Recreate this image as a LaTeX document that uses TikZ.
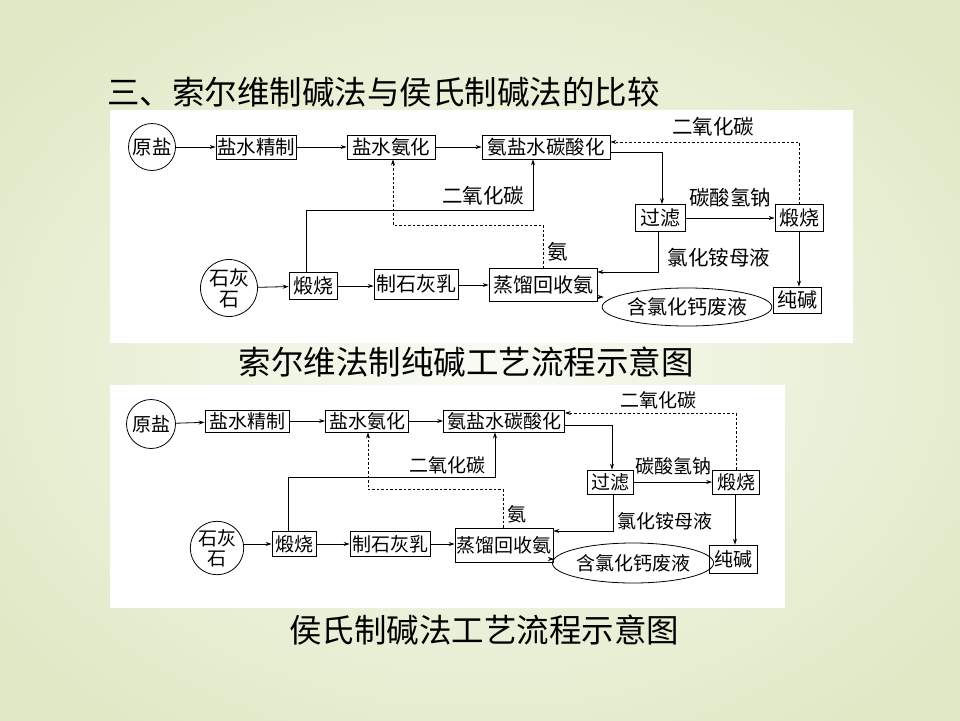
\documentclass[tikz,border=0pt]{standalone}
\usepackage{fontspec}
\usetikzlibrary{arrows.meta,shapes.geometric}
\newfontfamily\cjk{Noto Sans CJK SC}
\definecolor{bgout}{HTML}{E0E9C6}
\definecolor{bgin}{HTML}{F9FBF3}
\tikzset{
  every node/.style={font=\cjk\fontsize{19.5}{21}\selectfont},
  ln/.style={line width=0.8pt, draw=black},
  arr/.style={ln, -{Stealth[length=6pt,width=4pt]}},
  darr/.style={arr, dash pattern=on 2.5pt off 2pt},
  box/.style={ln, fill=white, rectangle, inner sep=0pt},
  circ/.style={ln, circle, inner sep=0pt, align=center},
  ell/.style={ln, ellipse, inner sep=0pt},
  lbl/.style={inner sep=0pt, font=\cjk\fontsize{20.5}{22}\selectfont},
  big/.style={font=\cjk\fontsize{20}{22}\selectfont},
  sml/.style={font=\cjk\fontsize{19}{21}\selectfont},
  captxt/.style={inner sep=0pt, font=\cjk\fontsize{32.5}{34}\selectfont},
}
\begin{document}
\begin{tikzpicture}[x=1pt,y=-1pt]
\useasboundingbox (0,0) rectangle (960,720);
\shade[inner color=bgin, outer color=bgout] (-120,-90) rectangle (1080,810);
% title
\node[anchor=west, inner sep=0pt, font=\cjk\fontsize{32.5}{34}\selectfont] (title) at (107,92) {三、索尔维制碱法与侯氏制碱法的比较};
% ================= panel 1 =================
\fill[white] (110,110) rectangle (853,343);
\node[circ, minimum size=47pt] (a1) at (152,147) {原盐};
\node[box, minimum width=80pt, minimum height=24pt] (b1) at (256,147) {盐水精制};
\node[box, minimum width=88pt, minimum height=24pt] (c1) at (391,147) {盐水氨化};
\node[box, minimum width=128pt, minimum height=24pt] (d1) at (546,147) {氨盐水碳酸化};
\node[box, minimum width=50pt, minimum height=27pt, big] (f1) at (660,218) {过滤};
\node[box, minimum width=48pt, minimum height=27pt, big] (g1) at (799,218) {煅烧};
\node[box, minimum width=48pt, minimum height=26pt, big] (h1) at (797,300) {纯碱};
\node[circ, minimum size=57pt, font=\cjk\fontsize{20}{21}\selectfont] (l1) at (229,288) {石灰\\石};
\node[box, minimum width=48pt, minimum height=27pt, big] (m1) at (313,286) {煅烧};
\node[box, minimum width=84pt, minimum height=30pt, big] (n1) at (416,284) {制石灰乳};
\node[box, minimum width=108pt, minimum height=33pt, big] (p1) at (543,285) {蒸馏回收氨};
\node[ell, minimum width=134pt, minimum height=38pt, big] (q1) at (687,307) {含氯化钙废液};
\node[lbl] (t1) at (713,127) {二氧化碳};
\node[lbl] (u1) at (730,198) {碳酸氢钠};
\node[lbl] (v1) at (719,258) {氯化铵母液};
\node[lbl] (w1) at (558,252) {氨};
\node[lbl] (x1) at (483,196) {二氧化碳};
\coordinate (k1) at (533,210);
\draw[arr] (a1) -- (b1);
\draw[arr] (b1) -- (c1);
\draw[arr] (c1) -- (d1);
\draw[arr] ([yshift=-5pt]d1.east) -| ([xshift=2pt]f1.north);
\draw[darr] (g1.north) |- ([yshift=5pt]d1.east);
\draw[arr] (f1) -- (g1);
\draw[arr] (g1.south) -- (g1.south |- h1.north);
\draw[arr] ([xshift=-2pt]f1.south) |- ([yshift=13pt]p1.east);
\draw[darr] (p1.north) -- ++(0,-43) -| ([xshift=2pt]c1.south);
\draw[arr] ([xshift=-7pt]m1.north) |- (k1) -- (k1 |- d1.south);
\draw[arr] (l1) -- (m1);
\draw[arr] (m1) -- (n1.west |- m1);
\draw[arr] (n1.east |- p1) -- (p1);
\draw[arr] ([yshift=-12pt]p1.east) -- ([yshift=-12pt,xshift=2pt]p1.east -| q1.west);
\node[captxt] (cap1) at (466,362) {索尔维法制纯碱工艺流程示意图};
% ================= panel 2 =================
\fill[white] (110,385) rectangle (785,608);
\node[circ, minimum size=49pt, sml] (a2) at (151,424) {原盐};
\node[box, minimum width=84pt, minimum height=22pt, sml] (b2) at (247,421) {盐水精制};
\node[box, minimum width=83pt, minimum height=22pt, sml] (c2) at (367,421) {盐水氨化};
\node[box, minimum width=121pt, minimum height=22pt, sml] (d2) at (504,421) {氨盐水碳酸化};
\node[box, minimum width=46pt, minimum height=24pt, sml] (f2) at (610,482) {过滤};
\node[box, minimum width=47pt, minimum height=24pt, sml] (g2) at (736,482) {煅烧};
\node[box, minimum width=48pt, minimum height=28pt, sml] (h2) at (733,559) {纯碱};
\node[circ, minimum size=52pt, font=\cjk\fontsize{19}{20}\selectfont] (l2) at (217,548) {石灰\\石};
\node[box, minimum width=44pt, minimum height=25pt, sml] (m2) at (294,544) {煅烧};
\node[box, minimum width=80pt, minimum height=25pt, sml] (n2) at (390,544) {制石灰乳};
\node[box, minimum width=98pt, minimum height=34pt, sml] (p2) at (504,545) {蒸馏回收氨};
\node[ell, minimum width=120pt, minimum height=40pt, sml] (q2) at (633,563) {含氯化钙废液};
\node[lbl, sml] (t2) at (658,400) {二氧化碳};
\node[lbl, sml] (u2) at (673,466) {碳酸氢钠};
\node[lbl, sml] (v2) at (665,521) {氯化铵母液};
\node[lbl, sml] (w2) at (517,514) {氨};
\node[lbl, sml] (x2) at (447,465) {二氧化碳};
\coordinate (k2) at (495,477);
\draw[arr] (a2) -- (b2);
\draw[arr] (b2) -- (c2);
\draw[arr] (c2) -- (d2);
\draw[arr] ([yshift=-4pt]d2.east) -| ([xshift=2pt]f2.north);
\draw[darr] (g2.north) |- ([yshift=8pt]d2.east);
\draw[arr] (f2) -- (g2);
\draw[arr] ([xshift=-1pt]g2.south) -- ([xshift=-1pt]g2.south |- h2.north);
\draw[arr] ([xshift=3pt]f2.south) |- ([yshift=14pt]p2.east);
\draw[darr] ([xshift=-1pt]p2.north) -- ++(0,-38) -| ([xshift=1pt]c2.south);
\draw[arr] ([xshift=-6pt]m2.north) |- (k2) -- (k2 |- d2.south);
\draw[arr] (l2.east |- m2) -- (m2);
\draw[arr] (m2) -- (n2);
\draw[arr] (n2) -- (n2 -| p2.west);
\draw[arr] ([yshift=-14pt]p2.east) -- ([yshift=-14pt,xshift=2pt]p2.east -| q2.west);
\node[captxt] (cap2) at (484,630) {侯氏制碱法工艺流程示意图};
\end{tikzpicture}
\end{document}
